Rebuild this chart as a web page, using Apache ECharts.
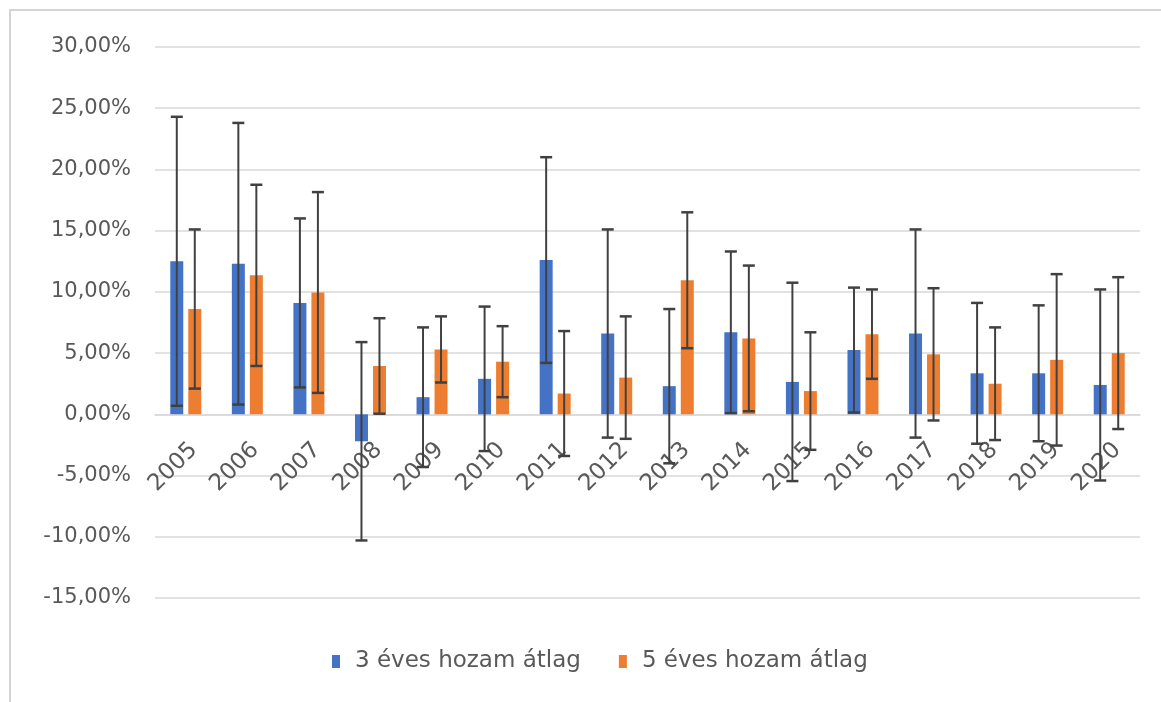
<!DOCTYPE html>
<html>
<head>
<meta charset="utf-8">
<script src="https://cdn.jsdelivr.net/npm/echarts@6/dist/echarts.min.js"></script>
<style>
html,body{margin:0;padding:0;background:#fff;}
#chart{width:1161px;height:702px;}
</style>
</head>
<body>
<div id="chart"></div>
<script>
const years = ['2005','2006','2007','2008','2009','2010','2011','2012','2013','2014','2015','2016','2017','2018','2019','2020'];
const avg3 = [12.5, 12.3, 9.1, -2.2, 1.4, 2.9, 12.6, 6.6, 2.3, 6.7, 2.65, 5.25, 6.6, 3.35, 3.35, 2.4];
const err3 = [11.8, 11.5, 6.9, 8.1, 5.7, 5.9, 8.4, 8.5, 6.3, 6.6, 8.1, 5.1, 8.5, 5.75, 5.55, 7.8];
const avg5 = [8.6, 11.35, 9.95, 3.95, 5.3, 4.3, 1.7, 3.0, 10.95, 6.2, 1.9, 6.55, 4.9, 2.5, 4.45, 5.0];
const err5 = [6.5, 7.4, 8.2, 3.9, 2.7, 2.9, 5.1, 5.0, 5.55, 5.95, 4.8, 3.65, 5.4, 4.6, 7.0, 6.2];
const seriesNames = ['3 éves hozam átlag', '5 éves hozam átlag'];
const yMin = -15, yMax = 30, yStep = 5;

const BAR_W = 13, BAR_GAP_PX = 5;
const colors = ['#4472C4', '#ED7D31'];
const FONT = 'DejaVu Sans';

function errData(avg, err) {
  return avg.map((v, i) => [i, v - err[i], v + err[i]]);
}
function errRender(offset) {
  return function (params, api) {
    const x = api.value(0);
    const lo = api.coord([x, api.value(1)]);
    const hi = api.coord([x, api.value(2)]);
    const cx = lo[0] + offset;
    const cap = 6;
    const capStyle = { stroke: '#404040', lineWidth: 2.5 };
    return {
      type: 'group',
      children: [
        { type: 'line', shape: { x1: cx, y1: hi[1], x2: cx, y2: lo[1] }, style: { stroke: '#404040', lineWidth: 2 } },
        { type: 'line', shape: { x1: cx - cap, y1: hi[1], x2: cx + cap, y2: hi[1] }, style: capStyle },
        { type: 'line', shape: { x1: cx - cap, y1: lo[1], x2: cx + cap, y2: lo[1] }, style: capStyle }
      ]
    };
  };
}
const off = (BAR_W + BAR_GAP_PX) / 2;

const chart = echarts.init(document.getElementById('chart'), null, { renderer: 'canvas' });
const gridTop = 47, gridBottom = 104, gridH = 702 - gridTop - gridBottom;
// distance from grid bottom up to the zero line
const zeroOffset = gridH * (0 - yMin) / (yMax - yMin);

chart.setOption({
  animation: false,
  backgroundColor: '#fff',
  textStyle: { fontFamily: FONT },
  graphic: [{
    type: 'rect', silent: true,
    shape: { x: 10, y: 10, width: 1300, height: 900 },
    style: { fill: 'none', stroke: '#d4d4d4', lineWidth: 2 }
  }],
  grid: { left: 155, right: 21, top: gridTop, bottom: gridBottom, containLabel: false },
  legend: {
    data: seriesNames,
    top: 645,
    left: 327,
    itemWidth: 8, itemHeight: 13, itemGap: 38,
    icon: 'rect',
    textStyle: { fontSize: 23, color: '#595959', fontFamily: FONT, padding: [0, 0, 0, 10] }
  },
  xAxis: {
    type: 'category',
    data: years,
    offset: -zeroOffset,
    axisLine: { onZero: false, lineStyle: { color: '#d9d9d9', width: 1.5 } },
    axisTick: { show: false },
    axisLabel: {
      rotate: 45, fontSize: 23, color: '#595959', margin: 24, interval: 0,
      verticalAlign: 'top', fontFamily: FONT
    }
  },
  yAxis: {
    type: 'value',
    min: yMin, max: yMax, interval: yStep,
    axisLine: { show: false },
    axisTick: { show: false },
    splitLine: { lineStyle: { color: '#d9d9d9', width: 1.5 } },
    axisLabel: {
      fontSize: 21, color: '#595959', margin: 24, fontFamily: FONT,
      formatter: v => v.toFixed(2).replace('.', ',') + '%'
    }
  },
  series: [
    { name: seriesNames[0], type: 'bar', data: avg3, barWidth: BAR_W, barGap: (BAR_GAP_PX / BAR_W * 100) + '%', itemStyle: { color: colors[0] }, z: 2 },
    { name: seriesNames[1], type: 'bar', data: avg5, barWidth: BAR_W, itemStyle: { color: colors[1] }, z: 2 },
    { type: 'custom', name: 'err3', data: errData(avg3, err3), renderItem: errRender(-off), encode: { x: 0, y: [1, 2] }, z: 5 },
    { type: 'custom', name: 'err5', data: errData(avg5, err5), renderItem: errRender(off), encode: { x: 0, y: [1, 2] }, z: 5 }
  ]
});
</script>
</body>
</html>
